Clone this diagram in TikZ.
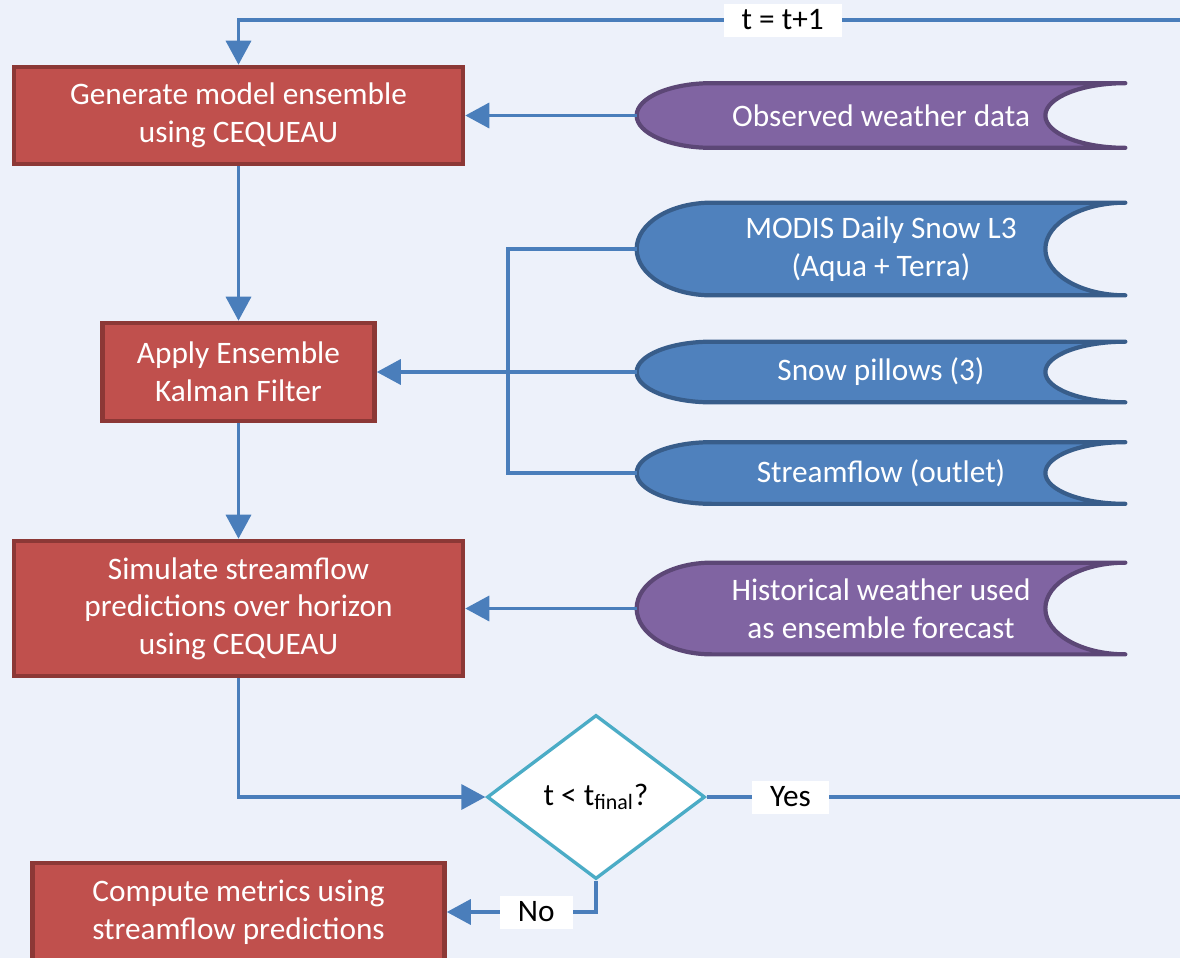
\documentclass[tikz,border=0pt]{standalone}
\usepackage{fontspec}
\setmainfont{Carlito}
\usepackage{tikz}
\usetikzlibrary{
	shapes.geometric,
	arrows.meta,
	calc,
	backgrounds
}

\definecolor{bgcol}{HTML}{EDF1FA}
\definecolor{linecol}{HTML}{4A7EBB}
\definecolor{boxfill}{HTML}{C0504D}
\definecolor{boxline}{HTML}{8C3836}
\definecolor{purplefill}{HTML}{8064A2}
\definecolor{purpleline}{HTML}{5C4776}
\definecolor{bluefill}{HTML}{4F81BD}
\definecolor{blueline}{HTML}{385D8A}
\definecolor{decline}{HTML}{4BACC6}

% stored data outline round a named node: #1 node, #2 fill, #3 line
\newcommand{\storeshape}[3]{
	\path[fill=#2,draw=#3,line width=2.4pt,line join=round]
		let \p1=($(#1.north)-(#1.south)$) in
		(#1.north east) -- ([xshift=1.5cm]#1.north west)
		arc[start angle=90,end angle=270,x radius=1.5cm,y radius=0.5*\y1]
		-- (#1.south east)
		arc[start angle=270,end angle=90,x radius=1.6cm,y radius=0.5*\y1]
		-- cycle;
}

\begin{document}
\begin{tikzpicture}[
		txt/.style={font=\fontsize{17.8}{21.4}\selectfont},
		box/.style={txt,rectangle,fill=boxfill,draw=boxline,line width=2.6pt,
			text=white,align=center,minimum width=8.98cm,minimum height=1.94cm},
		store/.style={txt,text=white,align=center,minimum width=9.76cm,inner sep=0pt},
		decision/.style={txt,diamond,draw=decline,fill=white,line width=1.9pt,
			minimum width=4.36cm,minimum height=3.28cm,inner sep=0pt},
		tag/.style={txt,fill=white,text=black,inner xsep=0.36cm,minimum height=0.66cm},
		link/.style={draw=linecol,line width=2pt},
		flow/.style={link,-{Triangle[length=0.48cm,width=0.5cm]}}
	]
		\useasboundingbox (0,0) rectangle (23.6,-19.16);

		\path
			node[box]                           (gen)     at (4.77,-2.31)  {Generate model ensemble\\using CEQUEAU}
			node[box,minimum width=5.44cm,
				minimum height=1.96cm]           (kalman)  at (4.77,-7.44)  {Apply Ensemble\\Kalman Filter}
			node[box,minimum height=2.7cm]      (sim)     at (4.77,-12.17) {Simulate streamflow\\predictions over horizon\\using CEQUEAU}
			node[box,minimum width=8.24cm,
				minimum height=1.96cm]           (metrics) at (4.77,-18.24) {Compute metrics using\\streamflow predictions}
			node[decision]                      (test)    at (11.92,-15.94) {t < t\textsubscript{final}?}

			node[store,minimum height=1.28cm]   (obs)     at (17.62,-2.31)  {Observed weather data}
			node[store,minimum height=1.84cm]   (modis)   at (17.62,-4.98)  {MODIS Daily Snow L3\\(Aqua + Terra)}
			node[store,minimum height=1.2cm]    (pillow)  at (17.62,-7.44)  {Snow pillows (3)}
			node[store,minimum height=1.22cm]   (stream)  at (17.62,-9.46)  {Streamflow (outlet)}
			node[store,minimum height=1.82cm]   (hist)    at (17.62,-12.17) {Historical weather used\\as ensemble forecast}
		;

		\begin{scope}[on background layer]
			\fill[bgcol] (0,0) rectangle (23.6,-19.16);
			\storeshape{obs}{purplefill}{purpleline}
			\storeshape{modis}{bluefill}{blueline}
			\storeshape{pillow}{bluefill}{blueline}
			\storeshape{stream}{bluefill}{blueline}
			\storeshape{hist}{purplefill}{purpleline}
		\end{scope}

		\coordinate (brk)     at (10.16,-4.98);
		\coordinate (loopbot) at (24,-15.94);
		\coordinate (looptop) at (24,-0.4);

		\draw[flow] (obs) -- (gen);
		\draw[flow] (gen) -- (kalman);
		\draw[link] (modis) -- (brk) |- (stream);
		\draw[flow] (pillow) -- (kalman);
		\draw[flow] (kalman) -- (sim);
		\draw[flow] (hist) -- (sim);
		\draw[flow] (sim) |- (test);
		\draw[flow] (test) |- node[tag,pos=0.7]{No} (metrics);
		\draw[flow] (test) -- node[tag,pos=0.17]{Yes} (loopbot)
			-- (looptop) -| node[tag,pos=0.217]{t = t+1} (gen);
	\end{tikzpicture}
\end{document}
